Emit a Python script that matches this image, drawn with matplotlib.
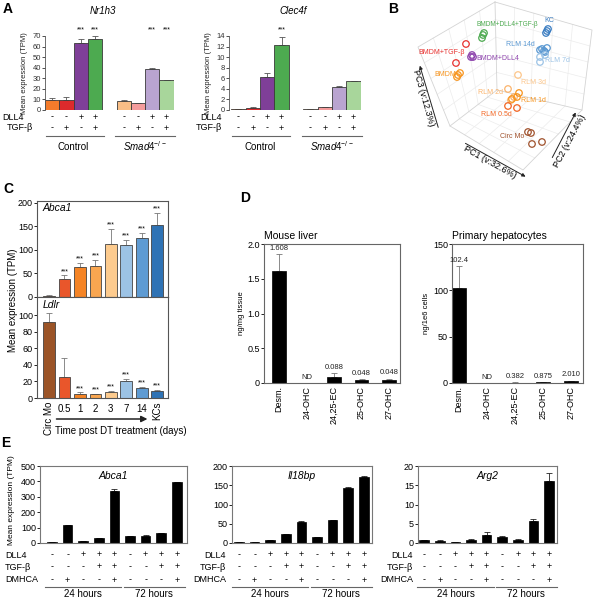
import numpy as np
import matplotlib
matplotlib.use('Agg')
import matplotlib.pyplot as plt
from matplotlib.transforms import blended_transform_factory as btf

plt.rcParams['font.family'] = ['Liberation Sans', 'DejaVu Sans']
plt.rcParams['mathtext.fontset'] = 'custom'
plt.rcParams['mathtext.rm'] = 'Liberation Sans'
plt.rcParams['mathtext.it'] = 'Liberation Sans:italic'
plt.rcParams['axes.linewidth'] = 0.7

W, H = 597, 600

# ================= DATA =================
# --- Panel A ---
a_dll4 = ['-', '-', '+', '+', '-', '-', '+', '+']
a_tgfb = ['-', '+', '-', '+', '-', '+', '-', '+']
a_groups = ['Control', r'$\mathit{Smad4}^{-/-}$']
a_colors = ['#F37B2B', '#DC2A2C', '#7F3F98', '#4DAA50',
            '#F9BE86', '#F49C9C', '#B9A4D0', '#A8D69B']
nr1h3_vals = [9.5, 9.5, 63, 67, 8.5, 6.5, 39, 28.5]
nr1h3_err = [1.5, 3.0, 4.0, 3.0, 0.5, 0.4, 0.5, 0.3]
nr1h3_sig = [0, 0, 1, 1, 0, 0, 1, 1]
clec4f_vals = [0.15, 0.35, 6.3, 12.3, 0.2, 0.5, 4.3, 5.4]
clec4f_err = [0.05, 0.15, 0.7, 1.6, 0.05, 0.05, 0.2, 0.05]
clec4f_sig = [0, 0, 0, 1, 0, 0, 0, 0]

# --- Panel B (projected PCA coordinates) ---
pca_groups = ['KC', 'RLM 14d', 'RLM 7d', 'BMDM+DLL4+TGF-β', 'BMDM+TGF-β',
              'BMDM+DLL4', 'BMDM', 'RLM 3d', 'RLM 2d', 'RLM 1d', 'RLM 0.5d', 'Circ Mo']
pca_colors = ['#3A7DC2', '#5A98D2', '#9CC3E6', '#4DAA50', '#E8312F',
              '#8E44AD', '#F7941D', '#FDC68A', '#FBB36B', '#F7941D', '#F26522', '#A0522D']
pca_x = [[547, 548, 546], [540, 542, 544, 547, 545], [540, 540, 545],
         [484, 482, 483], [466, 456], [472, 473, 471], [460, 457, 458],
         [518], [508, 511, 514], [519, 517, 512], [508, 517], [528, 531, 532, 542]]
pca_y = [[31, 29, 33], [50, 49, 51, 48, 52], [57, 62, 55],
         [33, 38, 35], [44, 63], [55, 57, 57], [73, 77, 75],
         [75], [89, 100, 97], [93, 97, 99], [106, 108], [132, 133, 144, 142]]
pca_axes = ['PC1 (v:32.6%)', 'PC2 (v:24.4%)', 'PC3 (v:12.3%)']

# --- Panel C ---
c_labels = ['Circ Mo', '0.5', '1', '2', '3', '7', '14', 'KCs']
c_colors = ['#9B5427', '#E9562B', '#F58425', '#F9A650', '#FDCB8E',
            '#9CC3E5', '#5E9BD3', '#2F73B5']
abca1_c = [3, 38, 64, 66, 112, 110, 126, 154]
abca1_c_err = [1, 8, 9, 13, 32, 12, 11, 24]
abca1_c_sig = [0, 1, 1, 1, 1, 1, 1, 1]
ldlr_c = [92, 25, 4.8, 4.4, 7, 20, 11.6, 9]
ldlr_c_err = [11, 23, 2, 0.8, 2, 3.5, 2, 0.5]
ldlr_c_sig = [0, 0, 1, 1, 1, 1, 1, 1]

# --- Panel D ---
d_labels = ['Desm.', '24-OHC', '24,25-EC', '25-OHC', '27-OHC']
liver_vals = [1.608, 0, 0.088, 0.048, 0.048]
liver_err = [0.25, 0, 0.06, 0.004, 0.016]
liver_text = ['1.608', 'ND', '0.088', '0.048', '0.048']
hep_vals = [102.4, 0, 0.382, 0.875, 2.010]
hep_err = [24, 0, 0.2, 0.3, 0.6]
hep_text = ['102.4', 'ND', '0.382', '0.875', '2.010']

# --- Panel E ---
e_dll4 = ['-', '-', '+', '+', '+', '-', '+', '+', '+']
e_tgfb = ['-', '-', '-', '+', '+', '-', '-', '+', '+']
e_dmhca = ['-', '+', '-', '-', '+', '-', '-', '-', '+']
e_groups = ['24 hours', '72 hours']
e_abca1 = [5, 117, 10, 32, 338, 43, 48, 62, 393]
e_abca1_err = [1, 3, 1, 2, 10, 2, 2, 3, 3]
e_il18bp = [2, 3, 8, 23, 55, 16, 59, 144, 172]
e_il18bp_err = [0.3, 0.3, 0.5, 1, 1.5, 0.5, 1.5, 2, 2]
e_arg2 = [0.8, 0.6, 0.3, 0.9, 2.1, 1.5, 0.8, 5.7, 16]
e_arg2_err = [0.1, 0.15, 0.05, 0.1, 0.7, 0.2, 0.15, 0.6, 2.2]

# ================= DRAWING =================
fig = plt.figure(figsize=(W / 100, H / 100), dpi=100)


def add_ax(l, t, r, b):
    return fig.add_axes([l / W, 1 - b / H, (r - l) / W, (b - t) / H])


def fx(x):
    return x / W


def fy(y):
    return 1 - y / H


def bars(ax, x, v, e, color, width, edge='#3a3a3a', lw=0.6, ecolor='#555555'):
    ax.bar(x, v, width=width, color=color, edgecolor=edge, linewidth=lw, zorder=2)
    ax.errorbar(x, v, yerr=[np.zeros(len(v)), e], fmt='none', ecolor=ecolor,
                elinewidth=0.6, capsize=2, capthick=0.6, zorder=1)


def stars(ax, x, v, e, sig, fs=5):
    for xi, vi, ei, s in zip(x, v, e, sig):
        if s:
            ax.annotate('***', (xi, vi + ei), xytext=(0, 0.3), textcoords='offset points',
                        ha='center', va='bottom', fontsize=fs, annotation_clip=False)


# panel letters
for lab, (x, y) in {'A': (8, 9), 'B': (393, 9), 'C': (8, 189), 'D': (245, 198), 'E': (6, 443)}.items():
    fig.text(fx(x), fy(y), lab, fontsize=10, fontweight='bold', ha='center', va='center')


# ---------- Panel A ----------
def panel_a(l, xmin, vals, errs, sig, ymax, ystep, title, title_x, spacing, rowlab):
    pos = np.array([0, 1, 2, 3, 5, 6, 7, 8])
    xmax = 8.5
    r = l + (xmax - xmin) * spacing
    ax = add_ax(l, 36, r, 110)
    bars(ax, pos, vals, errs, a_colors, 1.0)
    ax.set_xlim(xmin, xmax)
    ax.set_ylim(0, ymax)
    ax.set_yticks(np.arange(0, ymax + 0.01, ystep))
    for s in ['top', 'right', 'bottom']:
        ax.spines[s].set_visible(False)
    ax.spines['left'].set_color('#555555')
    ax.spines['left'].set_linewidth(0.6)
    ax.tick_params(axis='y', labelsize=5.5, length=2, width=0.6, pad=1, colors='#333333')
    ax.set_xticks([])
    ax.set_ylabel('Mean expression (TPM)', fontsize=5.5, labelpad=3, color='#222222')
    tr = btf(ax.transData, fig.transFigure)
    for i, p in enumerate(pos):
        if sig[i]:
            ax.text(p, fy(30), '***', transform=tr, ha='center', va='center', fontsize=5)
        ax.text(p, fy(117), a_dll4[i], transform=tr, ha='center', va='center', fontsize=6.5)
        ax.text(p, fy(128), a_tgfb[i], transform=tr, ha='center', va='center', fontsize=6.5)
    for (a, b), g, c in zip([(-0.45, 3.6), (4.4, 8.6)], a_groups, [1.5, 6.5]):
        ax.plot([a, b], [fy(136)] * 2, transform=tr, color='#666666', lw=0.8, clip_on=False)
        ax.text(c, fy(146.5), g, transform=tr, ha='center', va='center', fontsize=7)
    fig.text(fx(title_x), fy(11), title, style='italic', ha='center', va='center', fontsize=7)
    for txt, (x, y, ha) in zip(['DLL4', 'TGF-β'], rowlab):
        fig.text(fx(x), fy(y), txt, ha=ha, va='center', fontsize=6.5)
    return ax


panel_a(45, -0.5, nr1h3_vals, nr1h3_err, nr1h3_sig, 70, 10, 'Nr1h3', 103, 14.3,
        [(2, 117, 'left'), (7, 128, 'left')])
panel_a(229, -0.65, clec4f_vals, clec4f_err, clec4f_sig, 14, 2, 'Clec4f', 293, 14.4,
        [(222, 117, 'right'), (222, 128, 'right')])

# ---------- Panel B ----------
axb = add_ax(395, 0, 597, 190)
axb.set_xlim(395, 597)
axb.set_ylim(190, 0)
axb.axis('off')
Pt, Plt_, Prt, Plb, Pfb, Prb, Pc = (np.array(p, float) for p in
                                    [(495, 2), (418, 47), (592, 30), (450, 126), (523, 170), (582, 110), (497, 90)])
edge_col, grid_col = '#d4d4d4', '#ececec'


def lerp(a, b, t):
    return a + (b - a) * t


for (c0, a0, d0, b0) in [(Pc, Pt, Plt_, Plb), (Pc, Pt, Prt, Prb), (Pc, Plb, Pfb, Prb)]:
    for t in np.linspace(0, 1, 6)[1:-1]:
        p, q = lerp(c0, a0, t), lerp(b0, d0, t)
        axb.plot([p[0], q[0]], [p[1], q[1]], color=grid_col, lw=0.5, zorder=0)
        p, q = lerp(c0, b0, t), lerp(a0, d0, t)
        axb.plot([p[0], q[0]], [p[1], q[1]], color=grid_col, lw=0.5, zorder=0)
hexa = [Pt, Prt, Prb, Pfb, Plb, Plt_, Pt]
axb.plot([p[0] for p in hexa], [p[1] for p in hexa], color=edge_col, lw=0.6, zorder=0)
for p in [Pt, Plb, Prb]:
    axb.plot([Pc[0], p[0]], [Pc[1], p[1]], color=edge_col, lw=0.6, zorder=0)

for xs, ys, col in zip(pca_x, pca_y, pca_colors):
    axb.scatter(xs, ys, s=22, facecolors='none', edgecolors=col, linewidths=0.9, zorder=3)

b_lab_pos = [(549, 21, 'center'), (535, 44, 'right'), (545, 61, 'left'), (476, 25, 'left'),
             (465, 52, 'right'), (476, 59, 'left'), (456, 75, 'right'), (521, 82, 'left'),
             (503, 93, 'right'), (521, 100, 'left'), (512, 115, 'right'), (524, 137, 'right')]
b_lab_fs = [5, 5, 5, 4.7, 5, 5, 5, 5, 5, 5, 5, 5]
for g, col, (x, y, ha), fs in zip(pca_groups, pca_colors, b_lab_pos, b_lab_fs):
    axb.text(x, y, g, color=col, fontsize=fs, ha=ha, va='center', zorder=4)

arrow_kw = dict(arrowstyle='-|>', color='#222222', lw=0.7, mutation_scale=5)
axb.annotate('', xy=(528, 178), xytext=(463, 142), arrowprops=arrow_kw)
axb.text(490, 162, pca_axes[0], rotation=-29, ha='center', va='center', fontsize=6.5,
         rotation_mode='anchor')
axb.annotate('', xy=(577, 110), xytext=(551, 160), arrowprops=arrow_kw)
axb.text(570, 141, pca_axes[1], rotation=62, ha='center', va='center', fontsize=6.5,
         rotation_mode='anchor')
axb.annotate('', xy=(419, 63), xytext=(439, 130), arrowprops=arrow_kw)
axb.text(423, 98, pca_axes[2], rotation=-74, ha='center', va='center', fontsize=6.5,
         rotation_mode='anchor')

# ---------- Panel C ----------
xc = np.arange(len(c_labels))
axc1 = add_ax(37, 201, 168, 297)
axc2 = add_ax(37, 297, 168, 398)
for ax, v, e, sig, ymax, ticks, name in [
        (axc1, abca1_c, abca1_c_err, abca1_c_sig, 204, [0, 50, 100, 150, 200], 'Abca1'),
        (axc2, ldlr_c, ldlr_c_err, ldlr_c_sig, 122, [0, 20, 40, 60, 80, 100], 'Ldlr')]:
    bars(ax, xc, v, e, c_colors, 0.75, edge='#444444', lw=0.6, ecolor='#777777')
    stars(ax, xc, v, e, sig, fs=5)
    ax.set_xlim(-0.78, 7.7)
    ax.set_ylim(0, ymax)
    ax.set_yticks(ticks)
    ax.tick_params(axis='y', labelsize=6.5, length=2, width=0.6, pad=1)
    ax.tick_params(axis='x', bottom=False, labelbottom=False)
    for s in ax.spines.values():
        s.set_color('#555555')
        s.set_linewidth(0.8)
    ax.text(0.04, 0.975, name, transform=ax.transAxes, style='italic', fontsize=7.5,
            ha='left', va='top')
fig.text(fx(13), fy(300), 'Mean expression (TPM)', rotation=90, fontsize=7, ha='center', va='center')
trc = btf(axc2.transData, fig.transFigure)
for i, lab in enumerate(c_labels):
    if i in (0, len(c_labels) - 1):
        axc2.text(i, fy(402), lab, transform=trc, rotation=90, ha='center', va='top', fontsize=7)
    else:
        axc2.text(i, fy(409), lab, transform=trc, ha='center', va='center', fontsize=7)
axc2.annotate('', xy=(6.55, fy(419)), xytext=(0.3, fy(419)), xycoords=trc, textcoords=trc,
              arrowprops=dict(arrowstyle='-|>', color='#222222', lw=1.1, mutation_scale=9),
              annotation_clip=False)
fig.text(fx(55), fy(431), 'Time post DT treatment (days)', fontsize=7, ha='left', va='center')

# ---------- Panel D ----------
xd = np.arange(len(d_labels))
for (l, r, xmin, xmax, v, e, txt, ymax, ticks, tlabs, title, ylab) in [
        (264, 400, -0.55, 4.4, liver_vals, liver_err, liver_text, 2.0, [0, 0.5, 1.0, 1.5, 2.0],
         ['0', '0.5', '1.0', '1.5', '2.0'], 'Mouse liver', 'ng/mg tissue'),
        (452, 583, -0.25, 4.43, hep_vals, hep_err, hep_text, 150, [0, 50, 100, 150],
         ['0', '50', '100', '150'], 'Primary hepatocytes', 'ng/1e6 cells')]:
    ax = add_ax(l, 244, r, 383)
    bars(ax, xd, v, e, 'black', 0.5, edge='black', lw=0.5, ecolor='#777777')
    ax.set_xlim(xmin, xmax)
    ax.set_ylim(0, ymax)
    ax.set_yticks(ticks)
    ax.set_yticklabels(tlabs)
    ax.tick_params(axis='y', labelsize=6.5, length=2, width=0.6, pad=1)
    ax.set_xticks(xd)
    ax.set_xticklabels(d_labels, rotation=90, fontsize=6.5)
    ax.tick_params(axis='x', length=0, pad=2)
    for s in ax.spines.values():
        s.set_color('#666666')
        s.set_linewidth(0.8)
    for xi, vi, ei, t in zip(xd, v, e, txt):
        ax.annotate(t, (xi, vi + ei), xytext=(0, 1.5), textcoords='offset points',
                    ha='center', va='bottom', fontsize=5.5, color='#222222')
    ax.set_ylabel(ylab, fontsize=5.5, labelpad=2)
    ax.text(0.0, 1.02, title, transform=ax.transAxes, ha='left', va='bottom', fontsize=7.5)

# ---------- Panel E ----------
xe = np.arange(9)
e_specs = [
    (40, 187, -0.77, e_abca1, e_abca1_err, 500, 100, 'Abca1', (5, 'left')),
    (232, 372, -0.45, e_il18bp, e_il18bp_err, 200, 50, 'Il18bp', (226, 'right')),
    (418, 557, -0.4, e_arg2, e_arg2_err, 20, 5, 'Arg2', (413, 'right')),
]
for (l, r, xmin, v, e, ymax, step, title, (lx, lha)) in e_specs:
    ax = add_ax(l, 466, r, 543)
    bars(ax, xe, v, e, 'black', 0.62, edge='black', lw=0.5, ecolor='#222222')
    ax.set_xlim(xmin, xmin + (r - l) / 15.6)
    ax.set_ylim(0, ymax)
    ax.set_yticks(np.arange(0, ymax + 0.01, step))
    ax.tick_params(axis='y', labelsize=6.5, length=2, width=0.6, pad=1)
    ax.set_xticks([])
    for s in ax.spines.values():
        s.set_color('#777777')
        s.set_linewidth(0.8)
    ax.text(0.5, 0.93, title, transform=ax.transAxes, style='italic', fontsize=7.5,
            ha='center', va='top')
    tr = btf(ax.transData, fig.transFigure)
    for i in xe:
        ax.text(i, fy(555), e_dll4[i], transform=tr, ha='center', va='center', fontsize=6.5)
        ax.text(i, fy(567), e_tgfb[i], transform=tr, ha='center', va='center', fontsize=6.5)
        ax.text(i, fy(580), e_dmhca[i], transform=tr, ha='center', va='center', fontsize=6.5)
    for txt, y in zip(['DLL4', 'TGF-β', 'DMHCA'], [555, 567, 580]):
        fig.text(fx(lx), fy(y), txt, ha=lha, va='center', fontsize=6.5)
    for (a, b), g in zip([(-0.45, 4.45), (4.6, 8.5)], e_groups):
        ax.plot([a, b], [fy(587)] * 2, transform=tr, color='#666666', lw=0.8, clip_on=False)
        ax.text((a + b) / 2, fy(594), g, transform=tr, ha='center', va='center', fontsize=7)
fig.text(fx(12), fy(500), 'Mean expression (TPM)', rotation=90, fontsize=6, ha='center', va='center')

fig.savefig('out.png', dpi=100)
